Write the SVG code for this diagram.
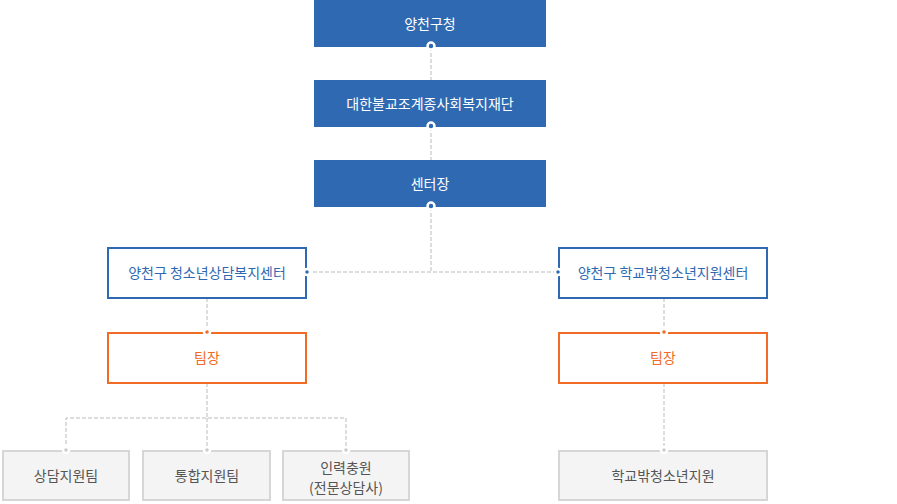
<svg xmlns="http://www.w3.org/2000/svg" width="897" height="504" viewBox="0 0 897 504">
<style>
text{font-family:"Noto Sans CJK KR","Noto Sans",sans-serif;font-size:14px;text-anchor:middle}
.b rect{fill:#2f69b2}.b text{fill:#fff}
.o rect{fill:#fff;stroke:#2f69b2;stroke-width:2}.o text{fill:#2f69b2}
.t rect{fill:#fff;stroke:#f06b23;stroke-width:2}.t text{fill:#f06b23}
.g rect{fill:#f4f4f4;stroke:#d6d6d6;stroke-width:2}.g text{fill:#555}
.c path{fill:none;stroke:#bbb;stroke-width:1;stroke-dasharray:4 2}
.d{stroke:#fff;stroke-width:2.5}
</style>
<g class="c">
<path d="M431 47V80M431 127V160M431 207V272M307 272H558M207 298V333M664 298V333M207 383V418M66 450V418H346V450M207 418V450M664 383V450"/>
</g>
<g id="n1" class="b"><rect x="314" y="0" width="232" height="47"/><text x="430" y="29">양천구청</text></g>
<g id="n2" class="b"><rect x="314" y="80" width="232" height="47"/><text x="430" y="109">대한불교조계종사회복지재단</text></g>
<g id="n3" class="b"><rect x="314" y="160" width="232" height="47"/><text x="430" y="189">센터장</text></g>
<g id="n4" class="o"><rect x="108" y="248" width="198" height="50"/><text x="207" y="278">양천구 청소년상담복지센터</text></g>
<g id="n5" class="o"><rect x="559" y="248" width="208" height="50"/><text x="663" y="278">양천구 학교밖청소년지원센터</text></g>
<g id="n6" class="t"><rect x="108" y="333" width="198" height="50"/><text x="207" y="363">팀장</text></g>
<g id="n7" class="t"><rect x="559" y="333" width="208" height="50"/><text x="663" y="363">팀장</text></g>
<g id="n8" class="g"><rect x="3" y="451" width="126" height="49"/><text x="66" y="481">상담지원팀</text></g>
<g id="n9" class="g"><rect x="143" y="451" width="127" height="49"/><text x="207" y="481">통합지원팀</text></g>
<g id="n10" class="g"><rect x="283" y="451" width="126" height="49"/><text x="346" y="473">인력충원</text><text x="346" y="493">(전문상담사)</text></g>
<g id="n11" class="g"><rect x="559" y="451" width="208" height="49"/><text x="663" y="481">학교밖청소년지원</text></g>
<g id="dots" class="d">
<circle cx="431" cy="46" r="3.5" fill="#2f69b2"/>
<circle cx="431" cy="126" r="3.5" fill="#2f69b2"/>
<circle cx="431" cy="206" r="3.5" fill="#2f69b2"/>
<circle cx="307" cy="272" r="3" fill="#2f69b2"/>
<circle cx="558" cy="272" r="3" fill="#2f69b2"/>
<circle cx="207" cy="332" r="3" fill="#f06b23"/>
<circle cx="664" cy="332" r="3" fill="#f06b23"/>
<circle cx="66" cy="450" r="3" fill="#ccc"/>
<circle cx="207" cy="450" r="3" fill="#ccc"/>
<circle cx="346" cy="450" r="3" fill="#ccc"/>
<circle cx="664" cy="450" r="3" fill="#ccc"/>
</g>
</svg>
